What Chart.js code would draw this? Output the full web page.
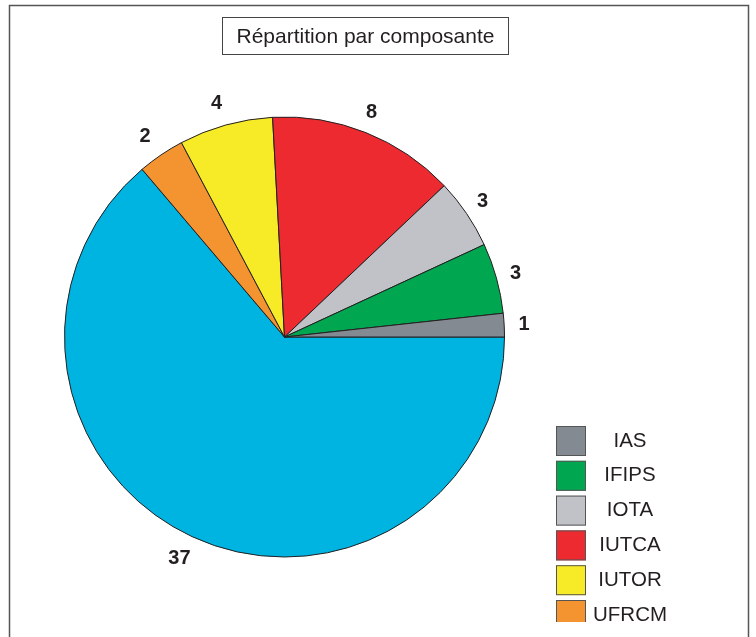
<!DOCTYPE html>
<html><head><meta charset="utf-8">
<script src="https://cdn.jsdelivr.net/npm/chart.js@4/dist/chart.umd.min.js"></script>
<style>html,body{margin:0;padding:0;background:#fff;}#wrap{width:756px;height:637px;position:relative;}</style>
</head><body><div id="wrap"><canvas id="c" width="756" height="637"></canvas></div>
<script>
const chartTitle = 'Répartition par composante';
const categories = ['IAS', 'IFIPS', 'IOTA', 'IUTCA', 'IUTOR', 'UFRCM', 'UFR Sciences'];
const values = [1, 3, 3, 8, 4, 2, 37];
const colors = ['#848a91', '#00a650', '#c0c2c8', '#ec2a30', '#f7ea26', '#f39430', '#00b4e2'];

// Reference runs counter-clockwise from 3 o'clock; Chart.js runs clockwise, so reverse.
const rLabels = categories.slice().reverse();
const rValues = values.slice().reverse();
const rColors = colors.slice().reverse();

const decor = {
  id: 'decor',
  afterDraw(chart) {
    const ctx = chart.ctx;
    ctx.save();
    // frame
    ctx.strokeStyle = '#555';
    ctx.lineWidth = 1.5;
    ctx.strokeRect(9.5, 5.5, 739, 700);
    // title box
    ctx.font = '21px "Liberation Sans", Arial, sans-serif';
    ctx.fillStyle = '#231f20';
    ctx.textAlign = 'center';
    ctx.textBaseline = 'middle';
    ctx.lineWidth = 1;
    ctx.strokeStyle = '#444';
    ctx.strokeRect(222.5, 17.5, 286, 37);
    ctx.fillText(chartTitle, 365.5, 37);
    // value labels
    const meta = chart.getDatasetMeta(0);
    ctx.font = 'bold 20px "Liberation Sans", Arial, sans-serif';
    meta.data.forEach((arc, i) => {
      const a = (arc.startAngle + arc.endAngle) / 2;
      const r = arc.outerRadius + 23;
      ctx.fillText(String(rValues[i]), arc.x + Math.cos(a) * r - 3, arc.y + Math.sin(a) * r + 1);
    });
    // legend (reference is cut off below y = 622)
    ctx.beginPath();
    ctx.rect(540, 400, 200, 222);
    ctx.clip();
    ctx.font = '20.5px "Liberation Sans", Arial, sans-serif';
    categories.forEach((c, i) => {
      const y = 426 + i * 34.8;
      ctx.fillStyle = colors[i];
      ctx.fillRect(556, y, 30, 30);
      ctx.strokeStyle = '#555';
      ctx.lineWidth = 1;
      ctx.strokeRect(556.5, y + 0.5, 29, 29);
      ctx.fillStyle = '#231f20';
      ctx.fillText(c, 630, y + 15);
    });
    ctx.restore();
  }
};

new Chart(document.getElementById('c'), {
  type: 'pie',
  data: {
    labels: rLabels,
    datasets: [{
      data: rValues,
      backgroundColor: rColors,
      borderColor: '#231f20',
      borderWidth: 1
    }]
  },
  options: {
    responsive: false,
    animation: false,
    rotation: 90,
    layout: { padding: { left: 64, right: 251, top: 116.5, bottom: 79.5 } },
    plugins: { legend: { display: false }, title: { display: false }, tooltip: { enabled: false } }
  },
  plugins: [decor]
});
</script></body></html>
